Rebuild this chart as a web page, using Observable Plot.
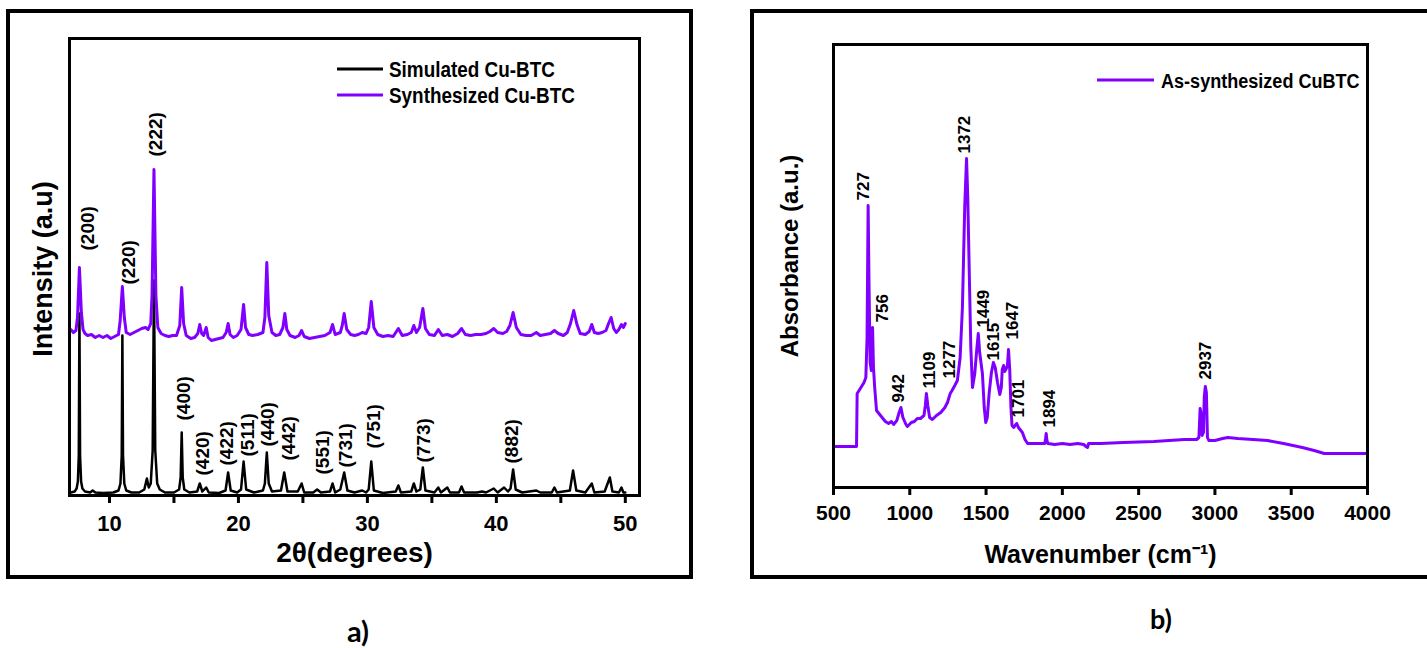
<!DOCTYPE html>
<html>
<head>
<meta charset="utf-8">
<script src="https://cdn.jsdelivr.net/npm/d3@7"></script>
<script src="https://cdn.jsdelivr.net/npm/@observablehq/plot@0.6"></script>
<style>
  html, body { margin: 0; padding: 0; background: #fff; overflow: hidden; }
  #page { position: relative; width: 1427px; height: 648px; }
  .box { position: absolute; box-sizing: border-box; border: 4px solid #000; }
  .chart { position: absolute; top: 0; }
  .cap { position: absolute; transform: translate(-50%, -50%); font-family: Lato, "Open Sans", sans-serif; font-weight: bold; color: #000; }
</style>
</head>
<body>
<div id="page">
  <div class="box" style="left:6px;top:9px;width:687px;height:570px"></div>
  <div class="box" style="left:750px;top:9px;width:720px;height:570px"></div>
  <div id="xrd" class="chart" style="left:0"></div>
  <div id="ftir" class="chart" style="left:700px"></div>
  <div class="cap" style="left:358px;top:630px;font-size:29px">a)</div>
  <div class="cap" style="left:1161px;top:618px;font-size:27px">b)</div>
</div>
<script>
// ---------- XRD patterns: [2θ (degrees), intensity (a.u.)] ----------
const simulatedPattern = [
  [7.0, 3], [7.3, 4], [7.45, 7], [7.55, 14], [7.62, 40], [7.67, 182], [7.72, 40], [7.8, 14], [7.9, 7],
  [8.1, 4], [8.5, 3], [8.7, 5], [8.9, 3], [9.5, 2.5], [10.3, 3], [10.7, 5], [10.85, 12], [10.95, 40],
  [11.0, 160], [11.05, 40], [11.15, 12], [11.3, 5], [11.7, 3], [12.3, 3], [12.7, 6], [12.9, 17],
  [13.05, 8], [13.2, 12], [13.35, 45], [13.45, 215], [13.55, 45], [13.7, 12], [13.9, 6], [14.3, 3],
  [15.0, 3], [15.4, 6], [15.52, 18], [15.6, 63], [15.68, 18], [15.8, 6], [16.2, 3], [16.8, 4],
  [17.0, 12], [17.2, 4], [17.5, 8], [17.7, 3], [18.5, 2.5], [19.0, 5], [19.2, 23], [19.4, 5],
  [19.9, 3], [20.2, 6], [20.4, 34], [20.6, 6], [21.2, 3], [21.9, 5], [22.05, 12], [22.2, 43],
  [22.35, 12], [22.6, 4], [23.3, 5], [23.55, 23], [23.8, 4], [24.6, 4], [24.9, 12], [25.1, 3],
  [25.8, 3], [26.1, 6], [26.4, 3], [27.1, 4], [27.3, 12], [27.5, 3], [27.9, 6], [28.2, 23],
  [28.45, 5], [29.0, 3], [29.6, 5], [29.9, 3], [30.1, 6], [30.3, 34], [30.5, 5], [31.2, 2.5],
  [32.2, 4], [32.4, 10], [32.6, 3], [33.4, 4], [33.6, 12], [33.8, 4], [34.1, 6], [34.3, 28],
  [34.5, 5], [35.2, 3], [35.5, 8], [35.7, 3], [36.2, 8], [36.4, 3], [37.1, 3], [37.3, 9], [37.5, 3],
  [38.5, 3], [38.9, 4], [39.2, 3], [39.8, 7], [40.1, 3], [40.6, 8], [40.9, 4], [41.1, 7], [41.3, 26],
  [41.5, 6], [42.0, 3], [43.1, 5], [43.4, 3], [44.3, 3], [44.5, 8], [44.7, 3], [45.7, 5], [45.95, 25],
  [46.2, 5], [46.9, 3], [47.4, 12], [47.6, 3], [48.4, 4], [48.8, 18], [49.0, 4], [49.5, 3], [49.7, 8],
  [49.85, 3], [50.0, 3]
];

const synthesizedPattern = [
  [7.0, 166], [7.2, 163], [7.4, 165], [7.52, 178], [7.67, 228], [7.82, 183], [7.95, 166], [8.1, 162],
  [8.3, 160], [8.6, 161], [8.9, 158], [9.2, 160], [9.5, 158], [9.8, 160], [10.1, 157], [10.4, 159],
  [10.7, 161], [10.83, 175], [11.0, 209], [11.15, 178], [11.3, 163], [11.6, 161], [11.9, 163],
  [12.2, 165], [12.5, 167], [12.8, 168], [13.0, 166], [13.2, 172], [13.3, 200], [13.45, 326],
  [13.6, 200], [13.75, 168], [14.0, 162], [14.3, 160], [14.6, 159], [14.9, 160], [15.2, 160],
  [15.45, 170], [15.6, 208], [15.75, 172], [15.95, 160], [16.3, 157], [16.6, 158], [16.85, 162],
  [17.0, 171], [17.15, 162], [17.3, 160], [17.5, 168], [17.65, 158], [17.9, 155], [18.2, 156],
  [18.5, 157], [18.8, 158], [19.05, 163], [19.2, 172], [19.35, 161], [19.6, 158], [19.9, 160],
  [20.2, 166], [20.4, 191], [20.55, 168], [20.8, 161], [21.1, 160], [21.5, 161], [21.9, 163],
  [22.05, 178], [22.2, 233], [22.35, 180], [22.6, 163], [22.9, 160], [23.2, 161], [23.45, 168],
  [23.6, 182], [23.75, 166], [24.0, 160], [24.4, 158], [24.7, 160], [24.9, 165], [25.1, 159],
  [25.5, 157], [25.9, 158], [26.3, 159], [26.7, 160], [27.1, 163], [27.3, 171], [27.5, 161],
  [27.9, 163], [28.05, 170], [28.2, 182], [28.4, 166], [28.7, 161], [29.0, 160], [29.3, 161],
  [29.6, 163], [29.9, 162], [30.1, 168], [30.3, 194], [30.5, 168], [30.8, 161], [31.2, 159],
  [31.6, 160], [32.0, 159], [32.4, 167], [32.7, 160], [33.1, 161], [33.4, 163], [33.6, 170],
  [33.8, 163], [34.05, 168], [34.3, 187], [34.5, 167], [34.8, 161], [35.2, 160], [35.5, 166],
  [35.8, 160], [36.2, 161], [36.6, 159], [37.0, 162], [37.3, 167], [37.6, 161], [38.0, 160],
  [38.4, 161], [38.8, 161], [39.2, 162], [39.5, 164], [39.8, 167], [40.1, 163], [40.5, 162],
  [40.8, 164], [41.05, 170], [41.3, 183], [41.55, 168], [41.9, 161], [42.3, 160], [42.7, 160],
  [43.1, 163], [43.4, 160], [43.8, 161], [44.2, 162], [44.5, 165], [44.8, 162], [45.2, 160],
  [45.5, 163], [45.75, 172], [46.0, 185], [46.25, 171], [46.5, 162], [46.9, 161], [47.2, 164],
  [47.4, 171], [47.6, 163], [47.9, 162], [48.2, 163], [48.5, 165], [48.7, 172], [48.9, 178],
  [49.1, 167], [49.3, 163], [49.5, 166], [49.7, 171], [49.85, 168], [50.0, 172]
];

// Miller indices and the reflection (2θ) each one marks
const hklLabels = ["(200)", "(220)", "(222)", "(400)", "(420)", "(422)", "(511)", "(440)", "(442)", "(551)", "(731)", "(751)", "(773)", "(882)"];
const hklAngles = [7.67, 11.0, 13.45, 15.6, 17.0, 19.2, 20.4, 22.2, 23.55, 26.1, 28.2, 30.3, 34.3, 41.3];
// the first three indices sit on the synthesized pattern, the rest on the simulated one
const hklOnSynthesized = [true, true, true, false, false, false, false, false, false, false, false, false, false, false];

const xrdTicks = [10, 20, 30, 40, 50];
const xrdMinorTicks = [15, 25, 35, 45];
const xrdSeries = ["Simulated Cu-BTC", "Synthesized Cu-BTC"];

// ---------- FTIR spectrum: [wavenumber (cm-1), absorbance (a.u.)] ----------
const ftirSpectrum = [
  [500, 41], [651, 41], [655, 94], [688, 102], [700, 105], [712, 110], [720, 150], [727, 282],
  [733, 200], [740, 125], [748, 117], [756, 160], [762, 120], [770, 100], [782, 77], [808, 72],
  [840, 66], [861, 64], [880, 66], [894, 63], [915, 67], [930, 75], [942, 80], [955, 70], [975, 63],
  [984, 61], [1010, 65], [1030, 66], [1049, 69], [1070, 69], [1093, 72], [1102, 82], [1109, 94],
  [1118, 82], [1130, 70], [1148, 68], [1175, 72], [1203, 75], [1230, 80], [1247, 85], [1265, 94],
  [1277, 97], [1295, 102], [1312, 107], [1330, 130], [1345, 180], [1360, 280], [1372, 329],
  [1380, 290], [1390, 214], [1400, 140], [1411, 100], [1426, 114], [1440, 140], [1449, 154],
  [1458, 135], [1476, 114], [1488, 80], [1498, 65], [1508, 70], [1520, 94], [1535, 115], [1548, 125],
  [1560, 120], [1575, 105], [1590, 93], [1600, 100], [1606, 118], [1615, 122], [1622, 116],
  [1630, 118], [1640, 122], [1647, 138], [1655, 118], [1663, 80], [1670, 62], [1682, 60], [1690, 62],
  [1701, 64], [1712, 60], [1738, 55], [1755, 48], [1772, 44], [1800, 44], [1850, 44], [1885, 44],
  [1890, 49], [1894, 54], [1899, 47], [1905, 44], [1950, 43], [2000, 44], [2050, 43], [2100, 44],
  [2140, 43], [2155, 41], [2165, 40], [2172, 44], [2250, 44], [2400, 45], [2600, 46], [2800, 48],
  [2880, 48], [2895, 50], [2903, 79], [2909, 74], [2916, 52], [2925, 55], [2930, 90], [2937, 101],
  [2944, 95], [2951, 50], [2960, 47], [3000, 47], [3050, 49], [3085, 50], [3150, 49], [3250, 48],
  [3344, 47], [3450, 44], [3573, 40], [3650, 37], [3717, 34], [3850, 34], [4000, 34]
];
const ftirBands = [727, 756, 942, 1109, 1277, 1372, 1449, 1615, 1647, 1701, 1894, 2937];
const ftirTicks = [500, 1000, 1500, 2000, 2500, 3000, 3500, 4000];
const ftirSeries = ["As-synthesized CuBTC"];

// ---------- styling ----------
const VIOLET = "#8000ff";
const SANS = "'Liberation Sans', Arial, Helvetica, sans-serif";

// label nudges in pixels: [dx, gap above the peak]
const hklNudge = [[8, 17], [7, 2], [2, 13], [2, 12], [3, 8], [-1, 7], [4, 5], [1, 6], [5, 12], [6, 15], [2, 5], [3, 13], [1, 5], [-1, 6]];
const bandNudge = {727: [-5, 5], 756: [10, 5], 942: [-2, 5], 1109: [3, 5], 1277: [-3, 12], 1372: [-2, 5],
  1449: [5, 6], 1615: [-10, 5], 1647: [4, 10], 1701: [2, 6], 1894: [3, 6], 2937: [0, 7]};

const peakOf = (series, at, tol = 0.12) =>
  d3.max(series.filter(d => Math.abs(d[0] - at) <= tol), d => d[1]);

// In-frame legend: a short line and a condensed bold label per series,
// offset from the plot frame's top-left corner
function lineLegend(entries, {left, top, step, length, gap, fontSize, squeeze}) {
  return (index, scales, values, dims) => {
    const g = d3.create("svg:g");
    entries.forEach(([label, color], i) => {
      const y = dims.marginTop + top + i * step;
      const x0 = dims.marginLeft + left;
      g.append("line")
        .attr("x1", x0).attr("x2", x0 + length).attr("y1", y).attr("y2", y)
        .attr("stroke", color).attr("stroke-width", 3);
      g.append("text")
        .attr("transform", `translate(${x0 + length + gap},${y}) scale(${squeeze},1)`)
        .attr("dy", "0.36em")
        .attr("text-anchor", "start")
        .attr("font-family", SANS).attr("font-weight", "bold").attr("font-size", fontSize)
        .attr("fill", "#000")
        .text(label);
    });
    return g.node();
  };
}

// ---------- a) XRD ----------
const hklData = hklLabels.map((t, i) => ({
  text: t,
  x: hklAngles[i],
  y: peakOf(hklOnSynthesized[i] ? synthesizedPattern : simulatedPattern, hklAngles[i]),
  dx: hklNudge[i][0],
  dy: -hklNudge[i][1]
}));

const xrd = Plot.plot({
  width: 700,
  height: 600,
  marginLeft: 69,
  marginRight: 61,
  marginTop: 38,
  marginBottom: 105,
  style: {fontFamily: SANS, background: "transparent", overflow: "visible"},
  x: {domain: [6.9, 51.1]},
  y: {domain: [0, 457], axis: null},
  marks: [
    Plot.line(simulatedPattern, {x: d => d[0], y: d => d[1], stroke: "#000", strokeWidth: 2.5, strokeLinejoin: "round"}),
    Plot.line(synthesizedPattern, {x: d => d[0], y: d => d[1], stroke: VIOLET, strokeWidth: 3, strokeLinejoin: "round"}),
    ...hklData.map(d => Plot.text([d], {
      x: "x", y: "y", text: "text", rotate: -90, textAnchor: "start",
      dx: d.dx, dy: d.dy, fontSize: 19, fontWeight: "bold", fill: "#000"
    })),
    Plot.frame({stroke: "#000", strokeWidth: 3}),
    Plot.axisX({
      ticks: xrdTicks, tickSize: 8, tickPadding: 12, strokeWidth: 3,
      tickFormat: d => String(d), fontSize: 22, fontWeight: "bold", label: null
    }),
    Plot.axisX({ticks: xrdMinorTicks, tickSize: 8, strokeWidth: 3, tickFormat: () => "", label: null}),
    Plot.text(["2θ(degrees)"], {frameAnchor: "bottom", textAnchor: "middle", lineAnchor: "middle", dy: 58, fontSize: 28, fontWeight: "bold"}),
    Plot.text(["Intensity (a.u)"], {frameAnchor: "left", textAnchor: "middle", lineAnchor: "middle", rotate: -90, dx: -26, dy: 2, fontSize: 27, fontWeight: "bold"}),
    lineLegend([[xrdSeries[0], "#000"], [xrdSeries[1], VIOLET]],
      {left: 268, top: 31, step: 26, length: 46, gap: 6, fontSize: 22, squeeze: 0.86})
  ]
});
document.getElementById("xrd").appendChild(xrd);

// ---------- b) FTIR ----------
const bandAt = w => ftirSpectrum.find(d => d[0] === w)[1];

const ftir = Plot.plot({
  width: 727,
  height: 600,
  marginLeft: 133,
  marginRight: 60,
  marginTop: 44,
  marginBottom: 113,
  style: {fontFamily: SANS, background: "transparent", overflow: "visible"},
  x: {domain: [500, 4000]},
  y: {domain: [0, 443], axis: null},
  marks: [
    Plot.line(ftirSpectrum, {x: d => d[0], y: d => d[1], stroke: VIOLET, strokeWidth: 3, strokeLinejoin: "round"}),
    ...ftirBands.map(w => Plot.text([w], {
      x: d => d, y: d => bandAt(d), text: d => String(d), rotate: -90, textAnchor: "start",
      dx: bandNudge[w][0], dy: -bandNudge[w][1], fontSize: 17, fontWeight: "bold", fill: "#000"
    })),
    Plot.frame({stroke: "#000", strokeWidth: 3}),
    Plot.axisX({
      ticks: ftirTicks, tickSize: 8, tickPadding: 10, strokeWidth: 3,
      tickFormat: d => String(d), fontSize: 21, fontWeight: "bold", label: null
    }),
    Plot.text(["Wavenumber (cm⁻¹)"], {frameAnchor: "bottom", textAnchor: "middle", lineAnchor: "middle", dy: 67, fontSize: 25, fontWeight: "bold"}),
    Plot.text(["Absorbance (a.u.)"], {frameAnchor: "left", textAnchor: "middle", lineAnchor: "middle", rotate: -90, dx: -43, dy: -10, fontSize: 24, fontWeight: "bold"}),
    lineLegend([[ftirSeries[0], VIOLET]], {left: 264, top: 36, step: 0, length: 57, gap: 7, fontSize: 21, squeeze: 0.86})
  ]
});
document.getElementById("ftir").appendChild(ftir);
</script>
</body>
</html>
